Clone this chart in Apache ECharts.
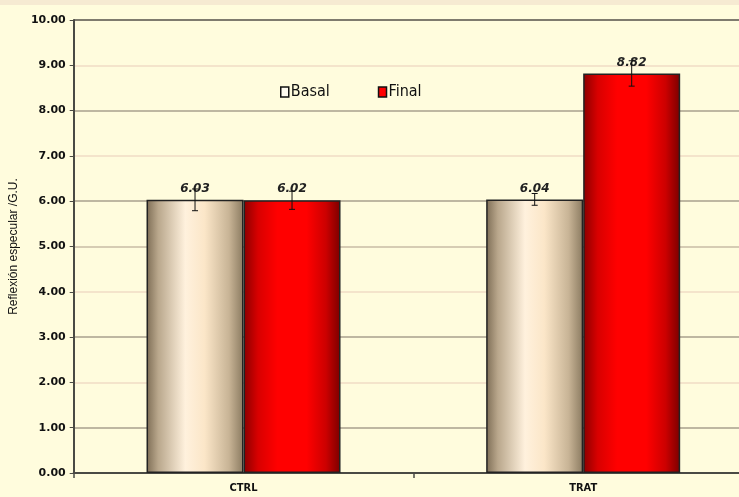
<!DOCTYPE html>
<html><head><meta charset="utf-8">
<script src="https://cdn.jsdelivr.net/npm/echarts@6/dist/echarts.min.js"></script>
<style>html,body{margin:0;padding:0;background:#fffcdd;overflow:hidden;}#c{width:760px;height:497px;}</style>
</head><body><div id="c"></div>
<script>
const categories = ['CTRL', 'TRAT'];
const basalValues = [6.03, 6.04];
const finalValues = [6.02, 8.82];
const basalErrors = [0.24, 0.13];
const finalErrors = [0.2, 0.28];
const yTicks = [0, 1, 2, 3, 4, 5, 6, 7, 8, 9, 10];

const chart = echarts.init(document.getElementById('c'));
const BW = 97;
const NARROW = '"DejaVu Sans Condensed", "Liberation Sans Narrow", "Roboto Condensed", sans-serif';
const basalGrad = new echarts.graphic.LinearGradient(0,0,1,0,[
  {offset:0,color:'#7d6d55'},{offset:0.12,color:'#b9a78c'},{offset:0.4,color:'#fff1dd'},
  {offset:0.6,color:'#fbe6c8'},{offset:0.85,color:'#c8b496'},{offset:1,color:'#8a7a60'}]);
const finalGrad = new echarts.graphic.LinearGradient(0,0,1,0,[
  {offset:0,color:'#8a0000'},{offset:0.15,color:'#d80000'},{offset:0.35,color:'#ff0000'},
  {offset:0.65,color:'#ff0000'},{offset:0.85,color:'#cc0000'},{offset:1,color:'#7a0000'}]);

function errRender(offset, vals, errs){
  return function(params, api){
    const i = api.value(0);
    const v = vals[i], e = errs[i];
    const top = api.coord([i, v + e]);
    const bot = api.coord([i, v - e]);
    const x = top[0] + offset;
    return {type:'group', children:[
      {type:'line', shape:{x1:x,y1:top[1],x2:x,y2:bot[1]}, style:{stroke:'#111',lineWidth:1}},
      {type:'line', shape:{x1:x-3,y1:top[1],x2:x+3,y2:top[1]}, style:{stroke:'#111',lineWidth:1}},
      {type:'line', shape:{x1:x-3,y1:bot[1],x2:x+3,y2:bot[1]}, style:{stroke:'#111',lineWidth:1}}
    ]};
  };
}

const labelStyle = {show:true, position:'top', distance:5, fontFamily:'"DejaVu Sans"', fontStyle:'italic', fontWeight:'bold', fontSize:12, color:'#222', formatter:p=>p.value.toFixed(2)};

chart.setOption({
  backgroundColor:'#fffcdd',
  animation:false,
  grid:{left:73, top:20, right:7, bottom:24},
  legend:{
    data:[{name:'Basal',itemStyle:{color:'#fffcf0'}},{name:'Final',itemStyle:{color:'#ff0000'}}],
    left:275, top:79, itemWidth:8, itemHeight:10, itemGap:48,
    icon:'rect',
    itemStyle:{borderColor:'#111',borderWidth:1.5},
    textStyle:{fontFamily:NARROW, fontSize:16, color:'#111', padding:[0,0,0,-3]}
  },
  xAxis:{
    type:'category', data:categories,
    axisLine:{lineStyle:{color:'#4a4a44',width:2}},
    axisTick:{show:true, length:5, lineStyle:{color:'#4a4a44',width:1.5}},
    axisLabel:{fontFamily:NARROW, fontWeight:'bold', fontSize:11, color:'#111', margin:10}
  },
  yAxis:{
    type:'value', min:0, max:10, interval:1,
    name:'Reflexión especular /G.U.', nameLocation:'middle', nameGap:45,
    nameTextStyle:{fontFamily:'"Liberation Sans"', fontSize:12, color:'#111'},
    axisLine:{show:true, lineStyle:{color:'#4a4a44',width:2}},
    axisTick:{show:true, length:4, lineStyle:{color:'#4a4a44'}},
    axisLabel:{fontFamily:'"DejaVu Sans"', fontWeight:'bold', fontSize:11, color:'#111', margin:8, formatter:v=>v.toFixed(2)},
    splitLine:{show:true, lineStyle:{width:1.5, color:['#a8a08c','#a8a08c','#f0dcc4','#a8a08c','#f0dcc4','#c8bca4','#a8a08c','#f0dcc4','#a8a08c','#f0dcc4','#555048']}}
  },
  series:[
    {name:'Basal', type:'bar', data:basalValues, barWidth:BW, barGap:'0%',
     itemStyle:{color:basalGrad, borderColor:'#222', borderWidth:1.5}, label:labelStyle, z:2},
    {name:'Final', type:'bar', data:finalValues, barWidth:BW,
     itemStyle:{color:finalGrad, borderColor:'#222', borderWidth:1.5}, label:labelStyle, z:2},
    {type:'custom', data:categories.map((c,i)=>[i, basalValues[i]]), renderItem:errRender(-BW/2, basalValues, basalErrors), z:5, silent:true},
    {type:'custom', data:categories.map((c,i)=>[i, finalValues[i]]), renderItem:errRender(BW/2, finalValues, finalErrors), z:5, silent:true}
  ],
  graphic:[{type:'rect', left:0, top:0, shape:{width:760,height:5}, style:{fill:'#f6ead2'}, silent:true}]
});
</script></body></html>
